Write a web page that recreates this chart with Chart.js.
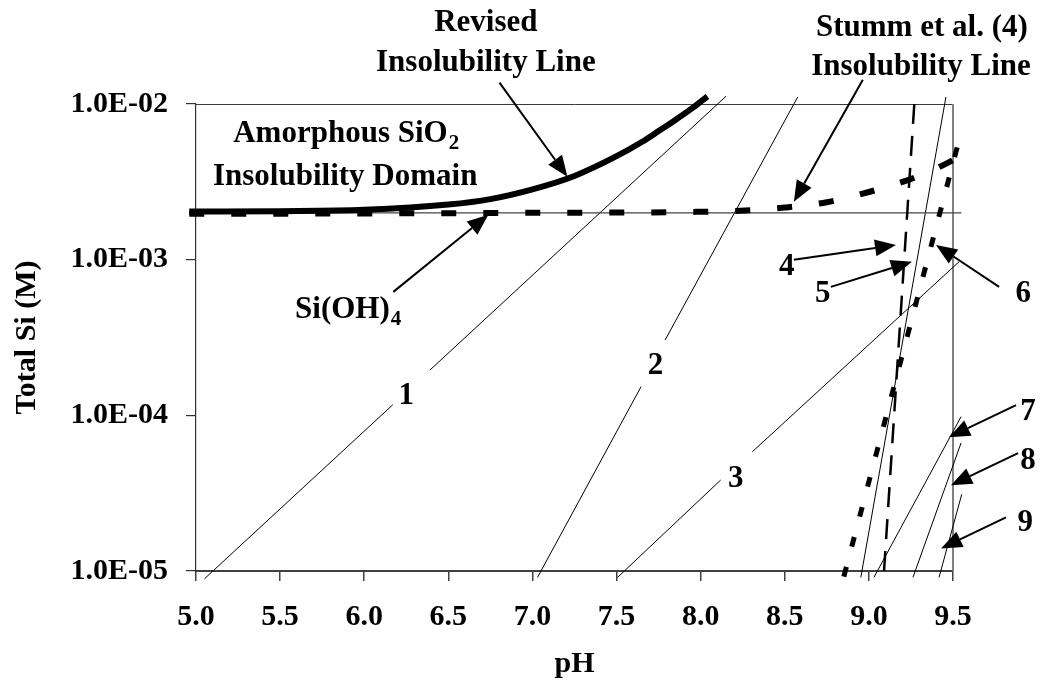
<!DOCTYPE html>
<html>
<head>
<meta charset="utf-8">
<title>Total Si vs pH</title>
<script src="https://cdn.jsdelivr.net/npm/chart.js@4.4.1/dist/chart.umd.min.js"></script>
<style>
  html, body { margin: 0; padding: 0; background: #ffffff; }
  #wrap { width: 1044px; height: 683px; }
</style>
</head>
<body>
<div id="wrap"><canvas id="chart" width="1044" height="683"></canvas></div>
<script>
// ---- axis ticks ----
const xTickValues = [5.0, 5.5, 6.0, 6.5, 7.0, 7.5, 8.0, 8.5, 9.0, 9.5];
const xTickLabels = ['5.0', '5.5', '6.0', '6.5', '7.0', '7.5', '8.0', '8.5', '9.0', '9.5'];
const yTickValues = [1e-5, 1e-4, 1e-3, 1e-2];
const yTickLabels = ['1.0E-05', '1.0E-04', '1.0E-03', '1.0E-02'];

// ---- revised amorphous SiO2 insolubility line ----
const revisedPH = [4.96, 5.5, 6.0, 6.5, 6.75, 7.0, 7.25, 7.5, 7.65, 7.75, 7.85, 7.95, 8.04];
const revisedSi = [2.04e-3, 2.05e-3, 2.09e-3, 2.26e-3, 2.45e-3, 2.83e-3, 3.45e-3, 4.62e-3, 5.7e-3, 6.7e-3, 7.9e-3, 9.4e-3, 1.12e-2];

// ---- Stumm et al. (4) insolubility line ----
const stummPH = [4.96, 6.0, 7.0, 8.0, 8.3, 8.5, 8.75, 9.0, 9.25, 9.4, 9.55];
const stummSi = [1.97e-3, 1.98e-3, 2.0e-3, 2.03e-3, 2.08e-3, 2.16e-3, 2.34e-3, 2.72e-3, 3.3e-3, 3.85e-3, 4.65e-3];

// ---- Si(OH)4 ----
const siOH4PH = [5.0, 9.55];
const siOH4Si = [2.0e-3, 2.0e-3];

// ---- lines 1-9 (null = break under the number label) ----
const line1PH = [5.05, 6.17, null, 6.39, 8.15];
const line1Si = [8.9e-6, 1.17e-4, null, 1.95e-4, 1.12e-2];
const line2PH = [7.03, 7.646, null, 7.789, 8.577];
const line2Si = [9.1e-6, 1.53e-4, null, 3.05e-4, 1.11e-2];
const line3PH = [7.506, 8.119, null, 8.307, 9.536];
const line3Si = [9.1e-6, 3.84e-5, null, 5.83e-5, 9.7e-4];
const line4PH = [9.09, 9.27];
const line4Si = [1.0e-5, 1.0e-2];
const line5PH = [8.952, 9.458];
const line5Si = [9.1e-6, 1.11e-2];
const line6PH = [8.851, 9.555];
const line6Si = [9.2e-6, 7.0e-3];
const line7PH = [9.03, 9.548];
const line7Si = [9.1e-6, 9.8e-5];
const line8PH = [9.262, 9.548];
const line8Si = [9.1e-6, 6.65e-5];
const line9PH = [9.417, 9.552];
const line9Si = [9.1e-6, 3.11e-5];

function points(ph, si) {
  const out = [];
  let last = ph[0];
  for (let i = 0; i < ph.length; i++) {
    if (si[i] === null) { out.push({ x: last, y: null }); continue; }
    last = ph[i];
    out.push({ x: ph[i], y: si[i] });
  }
  return out;
}

function series(ph, si, style) {
  return Object.assign({
    data: points(ph, si),
    showLine: true,
    pointRadius: 0,
    borderColor: '#000000',
    borderWidth: 1,
    fill: false,
    spanGaps: false,
    clip: false,
    tension: 0
  }, style);
}

const FONT = "'Liberation Serif', 'Times New Roman', Times, serif";
Chart.defaults.font.family = FONT;
Chart.defaults.font.weight = 'bold';
Chart.defaults.font.size = 30;
Chart.defaults.color = '#000000';

// ---- annotations: [pH, log10 Si] ----
const arrows = [
  [[6.804, -1.863], [7.208, -2.4675]],
  [[8.964, -1.844], [8.554, -2.628]],
  [[6.173, -3.207], [6.738, -2.712]],
  [[8.554, -3.001], [9.161, -2.905]],
  [[8.774, -3.175], [9.256, -3.014]],
  [[9.774, -3.175], [9.399, -2.905]],
  [[9.875, -3.934], [9.476, -4.140]],
  [[9.887, -4.243], [9.488, -4.449]],
  [[9.815, -4.655], [9.429, -4.855]]
];

const texts = [
  { t: 'Revised', at: [6.723, -1.529], align: 'center' },
  { t: 'Insolubility Line', at: [6.723, -1.786], align: 'center' },
  { t: 'Stumm et al. (4)', at: [9.315, -1.561], align: 'center' },
  { t: 'Insolubility Line', at: [9.31, -1.812], align: 'center' },
  { t: 'Amorphous SiO', sub: '2', at: [5.893, -2.243], align: 'center' },
  { t: 'Insolubility Domain', at: [5.887, -2.519], align: 'center' },
  { t: 'Si(OH)', sub: '4', at: [5.589, -3.375], align: 'left' },
  { t: '1', at: [6.25, -3.927], align: 'center' },
  { t: '2', at: [7.732, -3.734], align: 'center' },
  { t: '3', at: [8.208, -4.461], align: 'center' },
  { t: '4', at: [8.512, -3.098], align: 'center' },
  { t: '5', at: [8.726, -3.272], align: 'center' },
  { t: '6', at: [9.917, -3.272], align: 'center' },
  { t: '7', at: [9.946, -4.03], align: 'center' },
  { t: '8', at: [9.946, -4.345], align: 'center' },
  { t: '9', at: [9.929, -4.74], align: 'center' }
];

function px(chart, p) {
  return [chart.scales.x.getPixelForValue(p[0]), chart.scales.y.getPixelForValue(Math.pow(10, p[1]))];
}

function drawArrow(ctx, x1, y1, x2, y2) {
  const a = Math.atan2(y2 - y1, x2 - x1);
  const L = 21, W = 8.5;
  const bx = x2 - L * Math.cos(a), by = y2 - L * Math.sin(a);
  ctx.beginPath();
  ctx.moveTo(x1, y1);
  ctx.lineTo(bx, by);
  ctx.stroke();
  ctx.beginPath();
  ctx.moveTo(x2, y2);
  ctx.lineTo(bx + W * Math.sin(a), by - W * Math.cos(a));
  ctx.lineTo(bx - W * Math.sin(a), by + W * Math.cos(a));
  ctx.closePath();
  ctx.fill();
}

const framePlugin = {
  id: 'frame',
  beforeDatasetsDraw(chart) {
    const { ctx, chartArea: a } = chart;
    ctx.save();
    ctx.strokeStyle = '#3a3a3a';
    ctx.lineWidth = 1;
    ctx.beginPath();
    ctx.moveTo(a.left, Math.round(a.top) + 0.5);
    ctx.lineTo(a.right, Math.round(a.top) + 0.5);
    ctx.stroke();
    ctx.strokeStyle = '#808080';
    ctx.lineWidth = 2;
    ctx.beginPath();
    ctx.moveTo(a.right, a.top);
    ctx.lineTo(a.right, a.bottom);
    ctx.stroke();
    ctx.restore();
  }
};

const notesPlugin = {
  id: 'notes',
  afterDatasetsDraw(chart) {
    const ctx = chart.ctx;
    ctx.save();
    ctx.strokeStyle = '#000';
    ctx.fillStyle = '#000';
    ctx.lineWidth = 2;
    arrows.forEach(([from, to]) => {
      const [x1, y1] = px(chart, from);
      const [x2, y2] = px(chart, to);
      drawArrow(ctx, x1, y1, x2, y2);
    });
    ctx.textBaseline = 'alphabetic';
    const main = 'bold 31px ' + FONT;
    const small = 'bold 21px ' + FONT;
    texts.forEach(n => {
      const [x, y] = px(chart, n.at);
      ctx.font = main;
      const w1 = ctx.measureText(n.t).width;
      let w2 = 0;
      if (n.sub) { ctx.font = small; w2 = ctx.measureText(n.sub).width + 1; }
      const left = n.align === 'center' ? x - (w1 + w2) / 2 : x;
      ctx.textAlign = 'left';
      ctx.font = main;
      ctx.fillText(n.t, left, y);
      if (n.sub) {
        ctx.font = small;
        ctx.fillText(n.sub, left + w1 + 1, y + 7);
      }
    });
    ctx.restore();
  }
};

const datasets = [
  series(revisedPH, revisedSi, { borderWidth: 6, borderCapStyle: 'butt', cubicInterpolationMode: 'monotone' }),
  series(stummPH, stummSi, { borderWidth: 6, borderDash: [15, 27], borderCapStyle: 'butt', cubicInterpolationMode: 'monotone' }),
  series(line6PH, line6Si, { borderWidth: 5, borderDash: [10, 21] }),
  series(line4PH, line4Si, { borderWidth: 2.5, borderDash: [20, 12] }),
  series(siOH4PH, siOH4Si, { borderWidth: 1.2, borderColor: '#444444' }),
  series(line1PH, line1Si),
  series(line2PH, line2Si),
  series(line3PH, line3Si),
  series(line5PH, line5Si),
  series(line7PH, line7Si),
  series(line8PH, line8Si),
  series(line9PH, line9Si)
];

new Chart(document.getElementById('chart'), {
  type: 'scatter',
  data: { datasets },
  plugins: [framePlugin, notesPlugin],
  options: {
    responsive: false,
    animation: false,
    devicePixelRatio: 1,
    layout: { padding: { left: 0, top: 104, right: 91, bottom: 0 } },
    plugins: { legend: { display: false }, tooltip: { enabled: false } },
    scales: {
      x: {
        type: 'linear',
        min: 5,
        max: 9.5,
        afterBuildTicks: s => { s.ticks = xTickValues.map(v => ({ value: v })); },
        afterFit: s => { s.height = 112; },
        ticks: {
          autoSkip: false,
          maxRotation: 0,
          padding: 18,
          color: '#000',
          font: { size: 30, weight: 'bold' },
          callback: (v, i) => xTickLabels[i]
        },
        grid: { drawOnChartArea: false, drawTicks: true, tickLength: 10, color: '#404040', lineWidth: 1.5 },
        border: { display: true, color: '#404040', width: 2 },
        title: { display: true, text: 'pH', color: '#000', font: { size: 30, weight: 'bold' }, padding: { top: 0, bottom: 1 } }
      },
      y: {
        type: 'logarithmic',
        min: 1e-5,
        max: 1e-2,
        afterBuildTicks: s => { s.ticks = yTickValues.map(v => ({ value: v })); },
        afterFit: s => { s.width = 196; },
        ticks: {
          autoSkip: false,
          padding: 18,
          color: '#000',
          font: { size: 30, weight: 'bold' },
          callback: (v, i) => yTickLabels[i]
        },
        grid: { drawOnChartArea: false, drawTicks: true, tickLength: 10, color: '#303030', lineWidth: 1.2 },
        border: { display: true, color: '#303030', width: 1.2 },
        title: { display: true, text: 'Total Si (M)', color: '#000', font: { size: 30, weight: 'bold' }, padding: { top: 9, bottom: 0 } }
      }
    }
  }
});
</script>
</body>
</html>
